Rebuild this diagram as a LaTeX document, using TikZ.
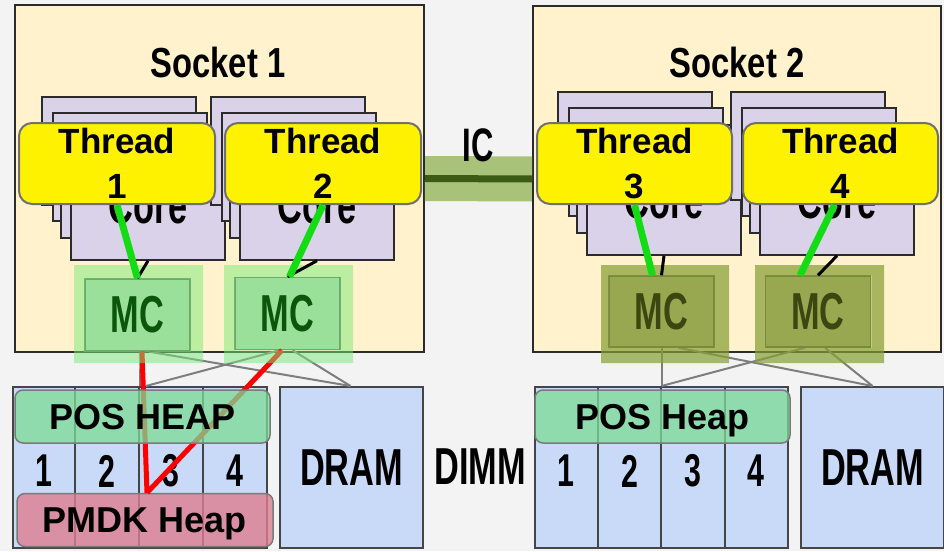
\documentclass[tikz,border=0pt]{standalone}
\usepackage{fontspec}
\setmainfont{Liberation Sans}
\newfontfamily\narrowfont[FakeStretch=0.66]{Liberation Sans}
\newfontfamily\titlefont[FakeStretch=0.78]{Liberation Sans}

\definecolor{bggray}{HTML}{F3F3F3}
\definecolor{socketfill}{HTML}{FFF2CC}
\definecolor{darkline}{HTML}{2B2B2B}
\definecolor{corefill}{HTML}{D9D2E9}
\definecolor{threadline}{HTML}{707070}
\definecolor{halogreen}{HTML}{78EB78}
\definecolor{mcgreen}{HTML}{9ADF9A}
\definecolor{mcgreenline}{HTML}{6CAA6C}
\definecolor{mcgreentext}{HTML}{0B560B}
\definecolor{haloolive}{HTML}{849F32}
\definecolor{mcolive}{HTML}{98A850}
\definecolor{mcoliveline}{HTML}{7A8A3C}
\definecolor{mcolivetext}{HTML}{3A4710}
\definecolor{memblue}{HTML}{C9DAF8}
\definecolor{memline}{HTML}{454545}
\definecolor{posgreen}{HTML}{7CDC96}
\definecolor{pmdkpink}{HTML}{DD7E90}
\definecolor{heapline}{HTML}{7A7A7A}
\definecolor{icbandcol}{HTML}{A9C27A}
\definecolor{icwirecol}{HTML}{3B5A12}
\definecolor{wiregray}{HTML}{7E7E7E}
\definecolor{threadgreen}{HTML}{14DC14}

\tikzset{socket/.style={draw=darkline,fill=socketfill,line width=2pt,inner sep=0}}
\tikzset{sockettitle/.style={font=\titlefont\bfseries\fontsize{42}{42}\selectfont}}
\tikzset{coreback/.style={draw=darkline,fill=corefill,line width=1.5pt}}
\tikzset{
  corebox/.style={
    draw=darkline,
    fill=corefill,
    line width=1.5pt,
    inner sep=0,
    minimum width=154pt,
    minimum height=108pt,
    font=\narrowfont\bfseries\fontsize{52}{52}\selectfont
  }
}
\tikzset{
  thread/.style={
    draw=threadline,
    fill=yellow,
    line width=2pt,
    rounded corners=13pt,
    inner sep=0,
    minimum width=196pt,
    minimum height=81pt,
    align=center,
    font=\bfseries\fontsize{35}{45}\selectfont
  }
}
\tikzset{
  mcA/.style={
    draw=mcgreenline,
    fill=mcgreen,
    line width=1.5pt,
    inner sep=0,
    minimum width=105pt,
    minimum height=72pt,
    text=mcgreentext,
    font=\narrowfont\bfseries\fontsize{52}{52}\selectfont
  }
}
\tikzset{
  mcB/.style={
    mcA,
    draw=mcoliveline,
    fill=mcolive,
    minimum height=71pt,
    text=mcolivetext
  }
}
\tikzset{haloA/.style={fill=halogreen,fill opacity=0.5,even odd rule}}
\tikzset{haloB/.style={fill=haloolive,fill opacity=0.7,even odd rule}}
\tikzset{
  memory/.style={
    draw=memline,
    fill=memblue,
    line width=2pt,
    inner sep=0,
    minimum height=161pt,
    font=\narrowfont\bfseries\fontsize{52}{52}\selectfont
  }
}
\tikzset{memnum/.style={font=\narrowfont\bfseries\fontsize{46}{46}\selectfont}}
\tikzset{biglabel/.style={font=\narrowfont\bfseries\fontsize{52}{52}\selectfont}}
\tikzset{
  heap/.style={
    draw=heapline,
    line width=1.5pt,
    rounded corners=8pt,
    inner sep=0,
    minimum height=53pt,
    text depth=0pt,
    text opacity=1,
    font=\bfseries\fontsize{36}{36}\selectfont
  }
}
\tikzset{wire/.style={draw=wiregray,line width=2pt}}
\tikzset{pmdklink/.style={draw=red,line width=5pt}}
\tikzset{threadlink/.style={draw=threadgreen,line width=7pt}}
\tikzset{corelink/.style={draw=black,line width=3pt}}

\begin{document}
\begin{tikzpicture}[x=1pt,y=-1pt]

\useasboundingbox (0,0) rectangle (944,551);
\fill[bggray] (0,0) rectangle (944,551);

\node[socket,minimum width=409pt,minimum height=347pt] (sock1) at (219.5,178.5) {};
\node[socket,minimum width=408pt,minimum height=346pt] (sock2) at (737,179) {};
\draw[icbandcol,line width=45pt] (sock1.east) -- (sock2.west);
\draw[icwirecol,line width=7pt] (sock1.east) -- (sock2.west);

\node[sockettitle] (sock1title) at (218,62) {Socket 1};
\node[sockettitle] (sock2title) at (737,62) {Socket 2};
\node[biglabel,font=\narrowfont\bfseries\fontsize{47}{47}\selectfont] (iclabel) at (478,145) {IC};

\foreach \cx/\cy/\cn in {42/97/core1,211/97/core2,558/92/core3,731/92/core4}{
  \foreach \dx/\dy in {0/0,11/16,19/33}
    \draw[coreback] (\cx+\dx,\cy+\dy) rectangle +(154,108);
  \node[corebox] (\cn) at (\cx+106,\cy+109) {Core};
}

\node[memory,minimum width=254pt] (dimm1) at (140,467.5) {};
\node[memory,minimum width=143pt] (dram1) at (351.5,467.5) {DRAM};
\node[memory,minimum width=253pt] (dimm2) at (661.5,467.5) {};
\node[memory,minimum width=143pt] (dram2) at (872.5,467.5) {DRAM};
\foreach \x in {75,139,203,598,661,725}
  \draw[memline,line width=1.5pt] (\x,387) -- (\x,548);
\foreach \x/\n in {44/1,107/2,171/3,235/4}
  \node[memnum] (numA\n) at (\x,471) {\n};
\foreach \x/\n in {566/1,630/2,693/3,756/4}
  \node[memnum] (numB\n) at (\x,471) {\n};
\node[biglabel] (dimmlabel) at (480,467) {DIMM};
\node[heap,fill=pmdkpink,fill opacity=0.8,minimum width=256pt] (pmdk1) at (145,520) {PMDK Heap};

\node[mcA] (mc1) at (137.5,315) {MC};
\node[mcA] (mc2) at (287.5,313.5) {MC};
\node[mcB] (mc3) at (661.5,311.5) {MC};
\node[mcB] (mc4) at (818,311.5) {MC};

\draw[wire] ([xshift=3pt]mc1.south) -- (dimm1.north);
\draw[wire] ([xshift=12pt]mc1.south) -- ([xshift=-1pt]dram1.north);
\draw[wire] ([xshift=-8pt]mc2.south) -- ([xshift=6pt]dimm1.north);
\draw[wire] ([xshift=5pt]mc2.south) -- ([xshift=-1pt]dram1.north);
\draw[wire] (mc3.south) -- (dimm2.north);
\draw[wire] ([xshift=17pt]mc3.south) -- (dram2.north);
\draw[wire] ([xshift=-13pt]mc4.south) -- (dimm2.north);
\draw[wire] ([xshift=7pt]mc4.south) -- (dram2.north);
\draw[pmdklink] ([xshift=4.5pt]mc1.south) -- ([xshift=2pt]pmdk1.north);
\draw[pmdklink] ([xshift=-5.5pt]mc2.south) -- ([xshift=2pt]pmdk1.north);

\fill[haloA] (74,265) rectangle (203,363) (mc1.north west) rectangle (mc1.south east);
\fill[haloA] (224,265) rectangle (353,363) (mc2.north west) rectangle (mc2.south east);
\fill[haloB] (601,265) rectangle (729,363) (mc3.north west) rectangle (mc3.south east);
\fill[haloB] (755,265) rectangle (884,363) (mc4.north west) rectangle (mc4.south east);

\node[heap,fill=posgreen,fill opacity=0.75,minimum width=255pt] (pos1) at (142.5,416.5) {POS HEAP};
\node[heap,fill=posgreen,fill opacity=0.75,minimum width=255pt] (pos2) at (662.5,416.5) {POS Heap};

\draw[corelink] (core1.south) -- (mc1.north);
\draw[corelink] (core2.south) -- (mc2.north);
\draw[corelink] (core3.south) -- (mc3.north);
\draw[corelink] (core4.south) -- (mc4.north);

\node[thread] (t1) at (117,163.5) {Thread\\1};
\node[thread] (t2) at (323,163.5) {Thread\\2};
\node[thread,minimum width=195pt] (t3) at (634.5,163.5) {Thread\\3};
\node[thread,minimum width=195pt] (t4) at (840.5,163.5) {Thread\\4};

\draw[threadlink] (t1.south) -- (mc1.north);
\draw[threadlink] (t2.south) -- ([xshift=2pt]mc2.north);
\draw[threadlink] (t3.south) -- ([xshift=-9pt]mc3.north);
\draw[threadlink] ([xshift=-6pt]t4.south) -- ([xshift=-18pt]mc4.north);

\end{tikzpicture}
\end{document}
